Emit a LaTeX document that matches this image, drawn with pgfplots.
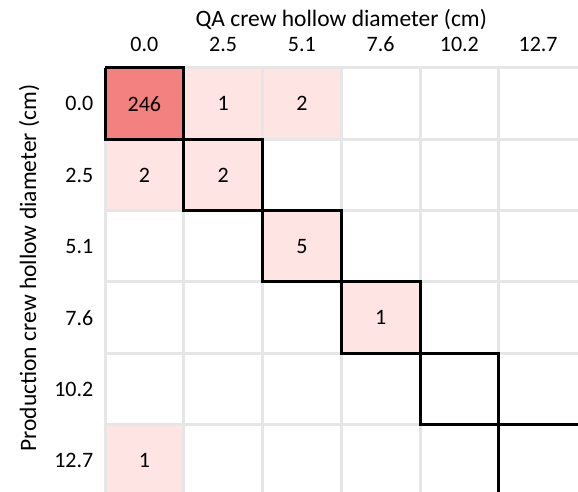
\documentclass[border=0pt]{standalone}
\usepackage{fontspec}
\setmainfont{Carlito}
\usepackage{pgfplots}
\pgfplotsset{compat=1.18}
\usepackage{pgfplotstable}
\definecolor{strongred}{RGB}{243,129,128}
\definecolor{lightred}{RGB}{255,228,228}
\definecolor{gridgray}{RGB}{230,230,230}

% x = QA index, y = 5 - production index, c = count
\pgfplotstableread{
x y c
0 0 1
1 0 0
2 0 0
3 0 0
4 0 0
5 0 0
0 1 0
1 1 0
2 1 0
3 1 0
4 1 0
5 1 0
0 2 0
1 2 0
2 2 0
3 2 1
4 2 0
5 2 0
0 3 0
1 3 0
2 3 5
3 3 0
4 3 0
5 3 0
0 4 2
1 4 2
2 4 0
3 4 0
4 4 0
5 4 0
0 5 246
1 5 1
2 5 2
3 5 0
4 5 0
5 5 0
}\cells

\begin{document}
\begin{tikzpicture}[font=\fontsize{22}{26}\selectfont]
\begin{axis}[
  at={(105pt,0pt)}, anchor=south west,
  scale only axis, width=472.5pt, height=424pt,
  xmin=-0.5, xmax=5.5, ymin=-0.444, ymax=5.5,
  clip=false,
  axis line style={draw=none},
  major tick length=0pt,
  /pgf/number format/assume math mode=true,
  xtick={0,...,5}, xticklabels={0.0,2.5,5.1,7.6,10.2,12.7},
  xticklabel pos=upper,
  ytick={0,...,5}, yticklabels={12.7,10.2,7.6,5.1,2.5,0.0},
  xticklabel style={anchor=base, inner sep=0pt, yshift=16.3pt},
  yticklabel style={anchor=east, inner sep=0pt, xshift=-11.5pt},
  xlabel={QA crew hollow diameter (cm)},
  ylabel={Production crew hollow diameter (cm)},
  every axis x label/.style={at={(axis description cs:0.5,1)}, anchor=base, yshift=41.3pt, font=\fontsize{23.5}{28}\selectfont},
  every axis y label/.style={at={(axis description cs:-0.146,0.528)}, rotate=90, anchor=base, font=\fontsize{23.5}{28}\selectfont},
  colormap={heat}{color(0)=(white) color(1)=(lightred) color(2)=(strongred)},
  point meta min=0, point meta max=2,
]
\addplot[matrix plot*, mesh/cols=6,
  point meta={\thisrow{c}>100 ? 2 : (\thisrow{c}>0 ? 1 : 0)}]
  table[x=x, y=y] {\cells};
\pgfplotsinvokeforeach{-0.5,0.5,1.5,2.5,3.5,4.5}{
  \draw[gridgray, line width=3pt] (axis cs:#1,-0.6) -- (axis cs:#1,5.5);
}
\pgfplotsinvokeforeach{-0.5,0.5,1.5,2.5,3.5,4.5,5.5}{
  \draw[gridgray, line width=3pt] (axis cs:-0.5,#1) -- (axis cs:5.6,#1);
}
\addplot[black, line width=3pt, mark=none] coordinates {
  (-0.5,5.5) (0.5,5.5) (0.5,4.5) (1.5,4.5) (1.5,3.5) (2.5,3.5) (2.5,2.5)
  (3.5,2.5) (3.5,1.5) (4.5,1.5) (4.5,0.5) (5.6,0.5)};
\addplot[black, line width=3pt, mark=none] coordinates {
  (-0.5,5.5) (-0.5,4.5) (0.5,4.5) (0.5,3.5) (1.5,3.5) (1.5,2.5) (2.5,2.5)
  (2.5,1.5) (3.5,1.5) (3.5,0.5) (4.5,0.5) (4.5,-0.6)};
\addplot[draw=none, mark=none, nodes near coords,
  nodes near coords style={anchor=center, inner sep=0pt, font=\fontsize{22}{26}\selectfont},
  point meta=\thisrow{c},
  restrict expr to domain={\thisrow{c}}{0.5:100000}]
  table[x=x, y=y] {\cells};
\end{axis}
\pgfresetboundingbox
\useasboundingbox (0,0) rectangle (578pt,492pt);
\end{tikzpicture}
\end{document}
